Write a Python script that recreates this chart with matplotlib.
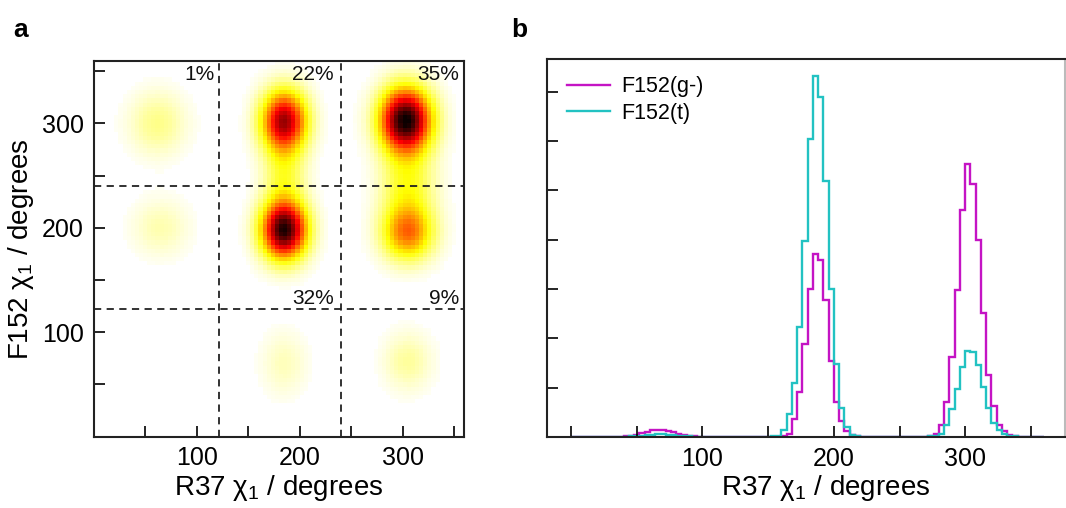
import matplotlib

matplotlib.use("Agg")

import matplotlib.pyplot as plt
import numpy as np

plt.rcParams["font.family"] = ["Liberation Sans", "DejaVu Sans"]
plt.rcParams["mathtext.fontset"] = "custom"
plt.rcParams["mathtext.rm"] = "Liberation Sans"
plt.rcParams["mathtext.it"] = "Liberation Sans"
plt.rcParams["mathtext.default"] = "regular"

# ---- panel a: 2D population map (cluster centres / widths / peak level)
cluster_r37 = [303, 185, 185, 305, 185, 305, 62, 65, 185, 305]
cluster_f152 = [303, 198, 302, 195, 250, 240, 300, 200, 70, 72]
cluster_peak = [1.00, 0.97, 0.78, 0.45, 0.18, 0.22, 0.12, 0.08, 0.07, 0.10]
cluster_sx = [17, 15, 15, 17, 14, 18, 19, 19, 15, 16]
cluster_sy = [21, 19, 20, 18, 22, 26, 21, 19, 21, 19]

region_labels = ["1%", "22%", "35%", "32%", "9%"]
region_label_x = [117, 233, 355, 233, 355]
region_label_y = [347, 347, 347, 132, 132]
boundaries = [122, 240]

# ---- panel b: R37 chi1 histograms, 4 degree bins from 0 to 360
bin_edges = np.arange(0, 364, 4)
f152_gminus = [
    0, 0, 0, 0, 0, 0, 0, 0, 0, 0,
    0.01, 0.02, 0.04, 0.08, 0.11, 0.14, 0.15, 0.15, 0.13, 0.10,
    0.07, 0.04, 0.02, 0.01, 0, 0, 0, 0, 0, 0,
    0, 0, 0, 0, 0, 0, 0, 0, 0, 0,
    0.01, 0.07, 0.36, 0.91, 1.88, 3.00, 3.70, 3.58, 2.78, 1.53,
    0.70, 0.33, 0.12, 0.04, 0.01, 0, 0, 0, 0, 0,
    0, 0, 0, 0, 0, 0, 0, 0, 0.02, 0.07,
    0.25, 0.70, 1.62, 2.97, 4.60, 5.54, 5.12, 3.99, 2.51, 1.25,
    0.63, 0.25, 0.12, 0.05, 0.02, 0, 0, 0, 0, 0,
]
f152_trans = [
    0, 0, 0, 0, 0, 0, 0, 0, 0, 0,
    0, 0.01, 0.02, 0.03, 0.04, 0.05, 0.06, 0.06, 0.05, 0.04,
    0.03, 0.02, 0.01, 0, 0, 0, 0, 0, 0, 0,
    0, 0, 0, 0, 0, 0, 0, 0, 0.01, 0.03,
    0.15, 0.46, 1.10, 2.22, 3.98, 6.03, 7.32, 6.89, 5.19, 2.99,
    1.48, 0.58, 0.20, 0.05, 0.01, 0, 0, 0, 0, 0,
    0, 0, 0, 0, 0, 0, 0, 0, 0.01, 0.03,
    0.07, 0.24, 0.57, 0.98, 1.42, 1.74, 1.72, 1.45, 1.01, 0.59,
    0.28, 0.15, 0.07, 0.03, 0.01, 0, 0, 0, 0, 0,
]
series_labels = ["F152(g-)", "F152(t)"]
series_colors = ["#C414C4", "#22C2C2"]

TICK_FONT = 18
LABEL_FONT = 20
xlabel = "R37 χ$_1$ / degrees"
ylabel = "F152 χ$_1$ / degrees"


def major_labels(values):
    return [str(v) if v in (100, 200, 300) else "" for v in values]


def style_ticks(ax):
    ax.tick_params(direction="in", length=8, width=1.2, labelsize=TICK_FONT,
                   top=False, right=False, pad=7)


fig = plt.figure(figsize=(10.66, 5.08), dpi=100)

# panel a
ax_a = fig.add_axes((0.0879, 0.1404, 0.3477, 0.740))
centres = np.arange(2, 360, 4)
gx, gy = np.meshgrid(centres, centres)
level = np.zeros_like(gx, dtype=float)
for cx, cy, amp, sx, sy in zip(cluster_r37, cluster_f152, cluster_peak,
                               cluster_sx, cluster_sy):
    level += amp * np.exp(-((gx - cx) ** 2 / (2 * sx ** 2) + (gy - cy) ** 2 / (2 * sy ** 2)))
level = np.ma.masked_less(np.clip(level, 0, 1), 0.012)
ax_a.pcolormesh(bin_edges, bin_edges, level, cmap="hot_r", vmin=0, vmax=1,
                shading="flat")
for b in boundaries:
    ax_a.axvline(b, color="#222222", lw=1.3, ls=(0, (4, 3)))
    ax_a.axhline(b, color="#222222", lw=1.3, ls=(0, (4, 3)))
for text, tx, ty in zip(region_labels, region_label_x, region_label_y):
    ax_a.text(tx, ty, text, ha="right", va="center", fontsize=15, color="#111111")
ax_a.set_xlim(0, 360)
ax_a.set_ylim(0, 360)
ticks_a = list(range(50, 360, 50))
ax_a.set_xticks(ticks_a)
ax_a.set_xticklabels(major_labels(ticks_a))
ax_a.set_yticks(ticks_a)
ax_a.set_yticklabels(major_labels(ticks_a))
style_ticks(ax_a)
for spine in ax_a.spines.values():
    spine.set_linewidth(1.5)
    spine.set_color("#222222")
ax_a.set_xlabel(xlabel, fontsize=LABEL_FONT, labelpad=2)
ax_a.set_ylabel(ylabel, fontsize=LABEL_FONT, labelpad=4)

# panel b
ax_b = fig.add_axes((0.5136, 0.1398, 0.4855, 0.744))
for values, label, color in zip([f152_gminus, f152_trans], series_labels, series_colors):
    ax_b.stairs(values, bin_edges, color=color, lw=1.7, label=label)
ax_b.set_xlim(-18, 376)
ax_b.set_ylim(0, 7.66)
ticks_b = list(range(0, 360, 50))
ax_b.set_xticks(ticks_b)
ax_b.set_xticklabels(major_labels(ticks_b))
ax_b.set_yticks(range(1, 8))
ax_b.set_yticklabels([])
style_ticks(ax_b)
for name, spine in ax_b.spines.items():
    spine.set_linewidth(1.5)
    spine.set_color("#bbbbbb" if name == "right" else "#222222")
ax_b.set_xlabel(xlabel, fontsize=LABEL_FONT, labelpad=2)
ax_b.xaxis.set_label_coords(0.538, -0.095)
ax_b.legend(loc="upper left", bbox_to_anchor=(0.004, 1.0), frameon=False,
            fontsize=15.5, handlelength=2.0, handletextpad=0.55, labelspacing=0.25,
            borderaxespad=0.4)

fig.text(13 / 1066, 1 - 37 / 508, "a", fontsize=19, fontweight="bold", va="baseline")
fig.text(511 / 1066, 1 - 37 / 508, "b", fontsize=19, fontweight="bold", va="baseline")

fig.savefig("out.png", dpi=100)
